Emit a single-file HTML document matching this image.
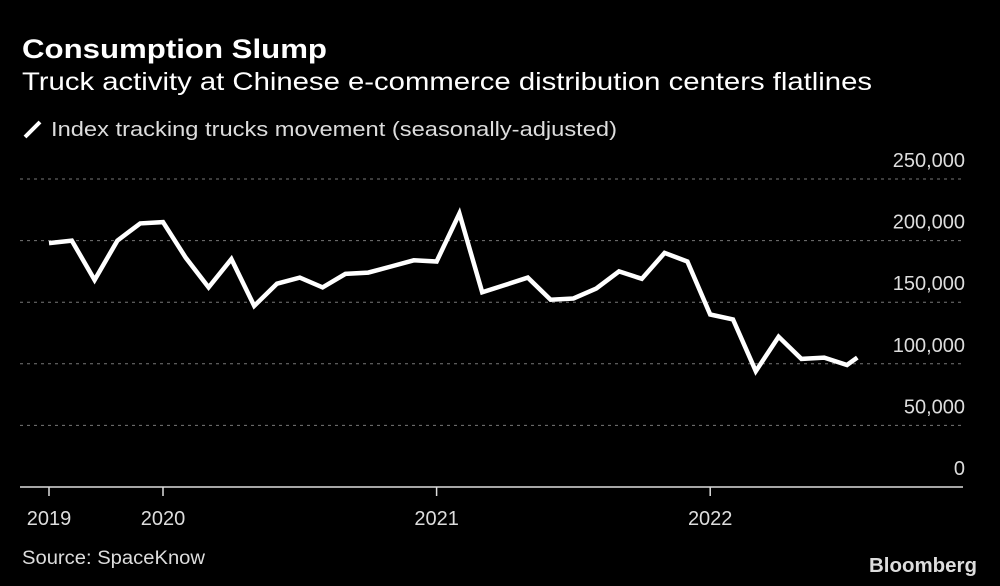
<!DOCTYPE html>
<html><head><meta charset="utf-8"><style>
html,body{margin:0;padding:0;background:#000;}
svg{display:block;font-family:"Liberation Sans",sans-serif;}
</style></head><body>
<svg id="chart" width="1000" height="586" viewBox="0 0 1000 586">
<text x="22" y="58" font-size="27" font-weight="bold" fill="#fff" textLength="305" lengthAdjust="spacingAndGlyphs">Consumption Slump</text>
<text x="22" y="90" font-size="25" fill="#fff" textLength="850" lengthAdjust="spacingAndGlyphs">Truck activity at Chinese e-commerce distribution centers flatlines</text>
<line x1="25" y1="137" x2="40" y2="122" stroke="#fff" stroke-width="4"/>
<text x="51" y="136" font-size="20" fill="#ddd" textLength="566" lengthAdjust="spacingAndGlyphs">Index tracking trucks movement (seasonally-adjusted)</text>
<g id="grid"></g>
<g id="xaxis"></g>
<path id="line" fill="none" stroke="#fff" stroke-width="4.5" stroke-linejoin="miter"/>
<text x="22" y="564" font-size="19" fill="#ddd" textLength="183" lengthAdjust="spacingAndGlyphs">Source: SpaceKnow</text>
<text x="977" y="572" font-size="20" font-weight="bold" fill="#ddd" text-anchor="end" textLength="108" lengthAdjust="spacingAndGlyphs">Bloomberg</text>
</svg>
<script>
const months = [0,1,2,3,4,5,6,7,8,9,10,11,12,13,14,15,16,17,18,19,20,21,22,23,24,25,26,27,28,29,30,31,32,33,34,35,35.45];
const values = [198000,200000,168000,200000,214000,215000,186000,162000,185000,147000,165000,170000,162000,173000,174000,179000,184000,183000,222000,158000,164000,170000,152000,153000,161000,175000,169000,190000,183000,140000,136000,94000,122000,104000,105000,99000,105000];
const yTicks = [0,50000,100000,150000,200000,250000];
const yTickLabels = ["0","50,000","100,000","150,000","200,000","250,000"];
const xTickMonths = [0,5,17,29];
const xTickLabels = ["2019","2020","2021","2022"];
// month 0 = Aug 2019
const NS="http://www.w3.org/2000/svg";
const x = m => 49 + m*22.8;
const y = v => 487 - v/50000*61.6;
const grid=document.getElementById('grid'), xa=document.getElementById('xaxis');
yTicks.forEach((t,i)=>{
  if(t>0){
    const l=document.createElementNS(NS,'line');
    l.setAttribute('x1',20);l.setAttribute('x2',963);l.setAttribute('y1',y(t));l.setAttribute('y2',y(t));
    l.setAttribute('stroke','#777');l.setAttribute('stroke-dasharray','3,4');l.setAttribute('stroke-width','1');
    
    
    grid.appendChild(l);
  }
  const tx=document.createElementNS(NS,'text');
  tx.setAttribute('x',965);tx.setAttribute('y',y(t)-12);tx.setAttribute('text-anchor','end');
  tx.setAttribute('font-size','20');tx.setAttribute('fill','#ddd');
  tx.textContent=yTickLabels[i];
  
  
  grid.appendChild(tx);
});
const ax=document.createElementNS(NS,'line');
ax.setAttribute('x1',20);ax.setAttribute('x2',963);ax.setAttribute('y1',487);ax.setAttribute('y2',487);
ax.setAttribute('stroke','#ddd');ax.setAttribute('stroke-width','1.5');


xa.appendChild(ax);
xTickMonths.forEach((m,i)=>{
  const t=document.createElementNS(NS,'line');
  t.setAttribute('x1',x(m));t.setAttribute('x2',x(m));t.setAttribute('y1',487);t.setAttribute('y2',496);
  t.setAttribute('stroke','#ddd');t.setAttribute('stroke-width','1.5');
  
  
  xa.appendChild(t);
  const tx=document.createElementNS(NS,'text');
  tx.setAttribute('x',x(m));tx.setAttribute('y',525);tx.setAttribute('text-anchor','middle');
  tx.setAttribute('font-size','20');tx.setAttribute('fill','#ddd');
  tx.textContent=xTickLabels[i];
  
  
  xa.appendChild(tx);
});
document.getElementById('line').setAttribute('d', values.map((v,i)=>(i?'L':'M')+x(months[i]).toFixed(1)+','+y(v).toFixed(1)).join(' '));
</script>
</body></html>
